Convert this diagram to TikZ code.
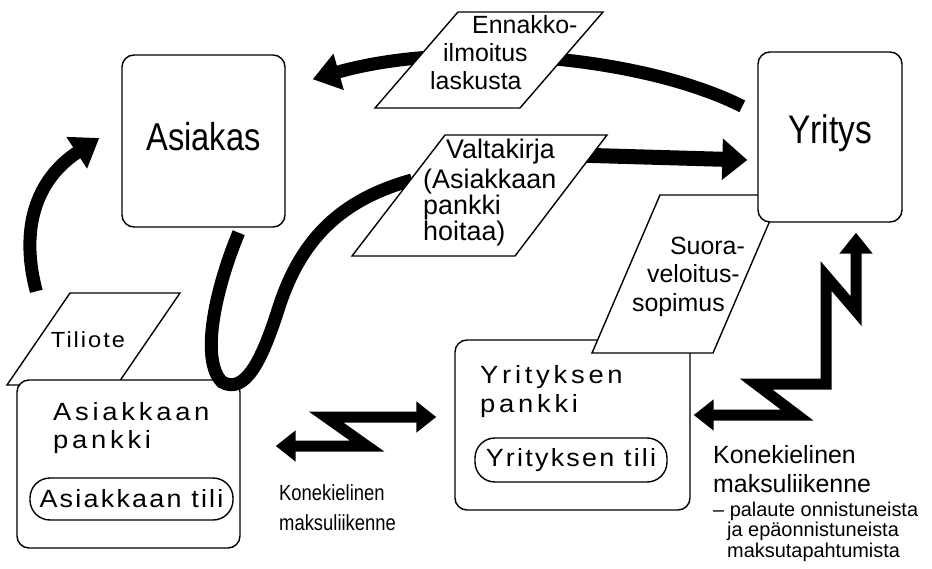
\documentclass[tikz,border=0pt]{standalone}
\usepackage{fontspec}
\setmainfont{Liberation Sans}
\newfontfamily\widefont[FakeStretch=1.1,LetterSpace=15]{Liberation Sans}
\newfontfamily\pillfont[FakeStretch=1.08,LetterSpace=9]{Liberation Sans}
\newfontfamily\narrowfont[FakeStretch=0.84]{Liberation Sans}
\usetikzlibrary{arrows.meta}

\tikzset{
  box/.style={draw, line width=1.4bp, rounded corners=12bp, fill=white},
  pill/.style={draw, line width=1.4bp, rounded corners=20bp, inner sep=0pt,
    font=\pillfont\fontsize{25}{28}\selectfont},
  paper/.style={draw, line width=1.4bp, fill=white},
  txt/.style={inner sep=0pt, font=\fontsize{25}{28.5}\selectfont},
  fat/.style={line width=13bp, -{Triangle[length=27bp,width=36bp]}},
  band/.style={line width=13bp},
  zig/.style={line width=11bp, line join=miter, miter limit=12},
}

\begin{document}
\begin{tikzpicture}[x=1bp,y=-1bp]
  \useasboundingbox (0,0) rectangle (932,569);
  % tiliote lies under the customer's bank
  \draw[paper] (7,385) -- (117,385) -- (180,293) -- (70,293) -- cycle;
  \node[inner sep=0pt, font=\pillfont\fontsize{22}{24}\selectfont] (tiliote) at (88,340) {Tiliote};

  % banks
  \node[box, minimum width=223bp, minimum height=168bp] (apankki) at (128.5,464) {};
  \node[anchor=base west, align=left, inner sep=0pt,
    font=\widefont\fontsize{25}{28}\selectfont] (apnimi) at (53,448) {Asiakkaan\\pankki};
  \node[pill, minimum width=203bp, minimum height=42bp] (atili) at (131.5,499) {Asiakkaan tili};
  \node[box, minimum width=235bp, minimum height=170bp] (ypankki) at (572.5,425) {};
  \node[anchor=base west, align=left, inner sep=0pt,
    font=\widefont\fontsize{25}{29}\selectfont] (ypnimi) at (480,412) {Yrityksen\\pankki};
  \node[pill, minimum width=192bp, minimum height=44bp] (ytili) at (571,460) {Yrityksen tili};

  % suoraveloitus
  \draw[paper] (592,353) -- (713,353) -- (781,195) -- (660,195) -- cycle;
  \node[txt, anchor=base east, align=right] (suora) at (745,311)
    {Suora-\\veloitus-\kern5bp\\sopimus\kern20bp};

  % customer and company
  \node[box, minimum width=163bp, minimum height=172bp, text depth=10bp,
    font=\narrowfont\fontsize{39}{40}\selectfont] (asiakas) at (203.5,141) {Asiakas};
  \node[box, minimum width=144bp, minimum height=170bp, text depth=15bp,
    font=\narrowfont\fontsize{40}{40}\selectfont] (yritys) at (830,137) {Yritys};

  \coordinate (vleft) at (412,180);
  \coordinate (vright) at (575,155);

  % thick arrows
  \draw[fat] ([xshift=20bp,yshift=88bp]apankki.north west) .. controls (20,230) and (35,180)
    .. ([xshift=-22bp,yshift=3bp]asiakas.west);
  \draw[fat] ([xshift=-15bp,yshift=-55bp]yritys.north west) .. controls (640,55) and (450,40)
    .. ([xshift=27bp,yshift=-25bp]asiakas.north east);
  \draw[band] ([xshift=-47bp,yshift=-5bp]asiakas.south east) .. controls (215,290) and (200,360)
    .. (222,382) .. controls (245,395) and (262,360) .. (278,310)
    .. controls (300,240) and (340,200) .. (vleft);
  \draw[fat, line width=15bp, -{Triangle[length=25bp,width=40bp]}] (vright)
    -- ([xshift=-10bp,yshift=-23bp]yritys.west);

  % papers on top of the arrows
  \draw[paper] (375,108) -- (520,108) -- (603,12) -- (458,12) -- cycle;
  \node[txt, anchor=base west, align=left] (ennakko) at (430,90)
    {\hspace*{42bp}Ennakko-\\\hspace*{13bp}ilmoitus\\laskusta};
  \draw[paper] (352,256) -- (515,256) -- (607,135) -- (445,135) -- cycle;
  \node[txt, anchor=base west, align=left, font=\fontsize{27}{24}\selectfont] (valtakirja) at (423,241)
    {\hspace*{23bp}Valtakirja\\[4bp](Asiakkaan\\pankki\\hoitaa)};

  % konekielinen maksuliikenne
  \draw[zig, {Triangle[length=20bp,width=30bp]}-{Triangle[length=20bp,width=30bp]}]
    ([xshift=35bp,yshift=18bp]apankki.east) -- (367,446) -- (326,417)
    -- ([xshift=-18bp,yshift=8bp]ypankki.west);
  \draw[zig, {Triangle[length=20bp,width=30bp]}-{Triangle[length=21bp,width=32bp]}]
    ([xshift=3bp,yshift=10bp]ypankki.east) -- (797,415) -- (756,384) -- (826,384)
    -- (826,276) -- (856,311) -- ([xshift=26bp,yshift=-10bp]yritys.south);

  \node[anchor=base west, align=left, inner sep=0pt,
    font=\narrowfont\fontsize{22}{30}\selectfont] (kmid) at (279,530) {Konekielinen\\maksuliikenne};
  \node[txt, anchor=base west, align=left, font=\fontsize{25}{29}\selectfont] (kright) at (713,492)
    {Konekielinen\\maksuliikenne};
  \node[anchor=base west, align=left, inner sep=0pt, font=\fontsize{20}{20.5}\selectfont] (palaute) at (713,557)
    {-- palaute onnistuneista\\\hspace*{14bp}ja epäonnistuneista\\\hspace*{14bp}maksutapahtumista};
\end{tikzpicture}
\end{document}
